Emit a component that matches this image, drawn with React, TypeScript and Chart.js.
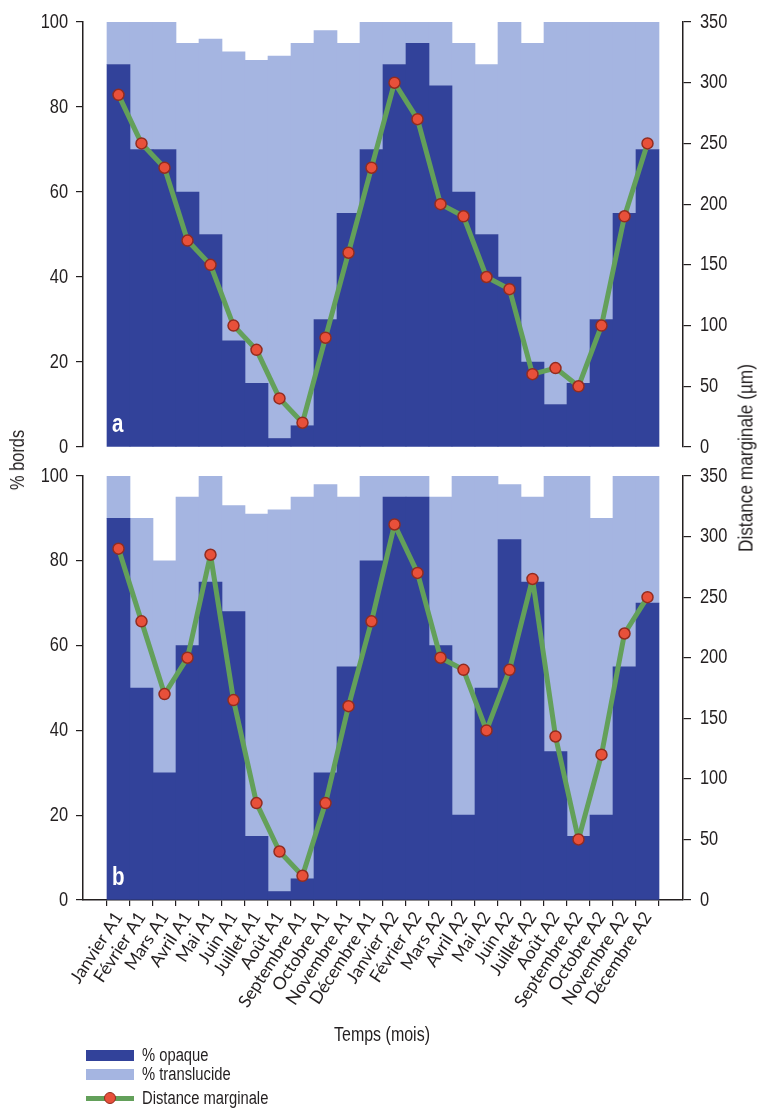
import React, { useEffect, useRef } from 'react';
import { Chart, registerables } from 'chart.js';

Chart.register(...registerables);

const months = [
  'Janvier A1', 'Février A1', 'Mars A1', 'Avril A1', 'Mai A1', 'Juin A1',
  'Juillet A1', 'Août A1', 'Septembre A1', 'Octobre A1', 'Novembre A1', 'Décembre A1',
  'Janvier A2', 'Février A2', 'Mars A2', 'Avril A2', 'Mai A2', 'Juin A2',
  'Juillet A2', 'Août A2', 'Septembre A2', 'Octobre A2', 'Novembre A2', 'Décembre A2',
];

// Panel a
const opaqueA = [90, 70, 70, 60, 50, 25, 15, 2, 5, 30, 55, 70, 90, 95, 85, 60, 50, 40, 20, 10, 15, 30, 55, 70];
const translucentA = [10, 30, 30, 35, 46, 68, 76, 90, 90, 68, 40, 30, 10, 5, 15, 35, 40, 60, 75, 90, 85, 70, 45, 30];
const distanceA = [290, 250, 230, 170, 150, 100, 80, 40, 20, 90, 160, 230, 300, 270, 200, 190, 140, 130, 60, 65, 50, 100, 190, 250];

// Panel b
const opaqueB = [90, 50, 30, 60, 75, 68, 15, 2, 5, 30, 55, 80, 95, 95, 60, 20, 50, 85, 75, 35, 15, 20, 55, 70];
const translucentB = [10, 40, 50, 35, 25, 25, 76, 90, 90, 68, 40, 20, 5, 5, 35, 80, 50, 13, 20, 65, 85, 70, 45, 30];
const distanceB = [290, 230, 170, 200, 285, 165, 80, 40, 20, 80, 160, 230, 310, 270, 200, 190, 140, 190, 265, 135, 50, 120, 220, 250];

const leftAxis = { min: 0, max: 100, step: 20 };
const rightAxis = { min: 0, max: 350, step: 50 };

const DARK = '#32429a';
const LIGHT = '#a5b5e1';
const GREEN = '#63a05a';
const RED = '#e8503a';
const RED_DARK = '#922c20';
const INK = '#231f20';
const SANS = "'Liberation Sans', Arial, sans-serif";
const XFONT = "Lato, 'Liberation Sans', sans-serif";
const SQUEEZE = 0.82;

function drawNarrow(ctx: CanvasRenderingContext2D, text: string, x: number, y: number, align: CanvasTextAlign, baseline: CanvasTextBaseline, font: string, color: string) {
  ctx.save();
  ctx.translate(x, y);
  ctx.scale(SQUEEZE, 1);
  ctx.font = font;
  ctx.fillStyle = color;
  ctx.textAlign = align;
  ctx.textBaseline = baseline;
  ctx.fillText(text, 0, 0);
  ctx.restore();
}

function narrowPlugin(letter: string, dx: number, dy: number) {
  return {
    id: 'narrow' + letter,
    afterDatasetsDraw(chart: any) {
      const { ctx, chartArea } = chart;
      drawNarrow(ctx, letter, chartArea.left + dx, chartArea.bottom - dy, 'left', 'alphabetic', `bold 25px ${SANS}`, '#ffffff');
    },
    afterDraw(chart: any) {
      const ctx = chart.ctx;
      ['y', 'y2'].forEach((id) => {
        const s = chart.scales[id];
        const isLeft = s.position === 'left';
        s.ticks.forEach((t: any) => {
          const y = s.getPixelForValue(t.value);
          const x = isLeft ? s.right - 15 : s.left + 17;
          drawNarrow(ctx, String(t.value), x, y, isLeft ? 'right' : 'left', 'middle', `20px ${SANS}`, INK);
        });
      });
    },
  };
}

function makeConfig(opaque: number[], translucent: number[], distance: number[], showX: boolean, letter: string, padTop: number, padBottom: number) {
  return {
    type: 'bar',
    data: {
      datasets: [
        {
          type: 'line',
          label: 'Distance marginale',
          data: distance.map((v, i) => ({ x: i, y: v })),
          yAxisID: 'y2',
          borderColor: GREEN,
          borderWidth: 5,
          borderJoinStyle: 'round',
          borderCapStyle: 'round',
          pointRadius: 5.5,
          pointBackgroundColor: RED,
          pointBorderColor: RED_DARK,
          pointBorderWidth: 1.5,
          tension: 0,
          order: 0,
        },
        {
          label: '% opaque',
          data: opaque.map((v, i) => ({ x: i, y: v })),
          backgroundColor: DARK,
          borderWidth: 0,
          barPercentage: 1,
          categoryPercentage: 1,
          yAxisID: 'y',
          order: 1,
        },
        {
          label: '% translucide',
          data: translucent.map((v, i) => ({ x: i, y: v })),
          backgroundColor: LIGHT,
          borderWidth: 0,
          barPercentage: 1,
          categoryPercentage: 1,
          yAxisID: 'y',
          order: 1,
        },
      ],
    },
    options: {
      animation: false,
      responsive: false,
      devicePixelRatio: 1,
      layout: { padding: { top: padTop, bottom: padBottom, left: 0, right: 0 } },
      plugins: { legend: { display: false }, tooltip: { enabled: false } },
      scales: {
        x: {
          type: 'linear',
          min: -1,
          max: 24,
          stacked: true,
          display: showX,
          afterBuildTicks: (scale: any) => {
            scale.ticks = months.map((_, i) => ({ value: i }));
          },
          afterFit: (scale: any) => {
            scale.height = showX ? 140 : 0;
          },
          ticks: {
            autoSkip: false,
            minRotation: 57,
            maxRotation: 57,
            padding: 2,
            color: INK,
            font: { family: XFONT, size: 17.5 },
            callback: (value: number) => months[value] ?? '',
          },
          grid: { drawOnChartArea: false, drawTicks: true, tickLength: 6, color: INK, lineWidth: 1.2 },
          border: { display: true, color: INK, width: 1.5 },
        },
        y: {
          position: 'left',
          min: leftAxis.min,
          max: leftAxis.max,
          stacked: true,
          afterFit: (scale: any) => {
            scale.width = 83;
          },
          ticks: { stepSize: leftAxis.step, display: false },
          grid: { drawOnChartArea: false, tickLength: 7, color: INK, lineWidth: 1.2 },
          border: { display: true, color: INK, width: 1.5 },
        },
        y2: {
          position: 'right',
          min: rightAxis.min,
          max: rightAxis.max,
          afterFit: (scale: any) => {
            scale.width = 74;
          },
          ticks: { stepSize: rightAxis.step, display: false },
          grid: { drawOnChartArea: false, tickLength: 8, color: INK, lineWidth: 1.2 },
          border: { display: true, color: INK, width: 1.5 },
        },
      },
    },
    plugins: [narrowPlugin(letter, 29, 15)],
  };
}

function Panel(props: { opaque: number[]; translucent: number[]; distance: number[]; showX: boolean; letter: string; top: number; height: number; padTop: number; padBottom: number }) {
  const ref = useRef<HTMLCanvasElement | null>(null);
  useEffect(() => {
    if (!ref.current) return;
    const chart = new Chart(ref.current, makeConfig(props.opaque, props.translucent, props.distance, props.showX, props.letter, props.padTop, props.padBottom) as any);
    return () => chart.destroy();
  }, []);
  return (
    <canvas
      ref={ref}
      width={757}
      height={props.height}
      style={{ position: 'absolute', left: 0, top: props.top, width: 757, height: props.height }}
    />
  );
}

const textBase: React.CSSProperties = {
  position: 'absolute',
  fontFamily: SANS,
  color: INK,
  whiteSpace: 'nowrap',
  lineHeight: 1,
};

const legendText: React.CSSProperties = {
  ...textBase,
  fontSize: 18,
  left: 142,
  transform: `translateY(-50%) scaleX(${SQUEEZE})`,
  transformOrigin: '0 50%',
};

export default function App() {
  return (
    <div style={{ position: 'absolute', left: 0, top: 0, width: 757, height: 1109, background: '#ffffff', overflow: 'hidden' }}>
      <Panel opaque={opaqueA} translucent={translucentA} distance={distanceA} showX={false} letter="a" top={0} height={460} padTop={22} padBottom={13} />
      <Panel opaque={opaqueB} translucent={translucentB} distance={distanceB} showX={true} letter="b" top={460} height={580} padTop={16} padBottom={0} />

      <div style={{ ...textBase, fontSize: 20, left: 17, top: 460, transform: `translate(-50%, -50%) rotate(-90deg) scaleX(${SQUEEZE})` }}>% bords</div>
      <div style={{ ...textBase, fontSize: 21, left: 745, top: 458, transform: `translate(-50%, -50%) rotate(-90deg) scaleX(${SQUEEZE})` }}>Distance marginale (µm)</div>
      <div style={{ ...textBase, fontSize: 19.5, left: 382, top: 1035, transform: `translate(-50%, -50%) scaleX(${SQUEEZE})` }}>Temps (mois)</div>

      <div style={{ position: 'absolute', left: 86, top: 1050, width: 48, height: 11, background: DARK }} />
      <div style={{ ...legendText, top: 1055 }}>% opaque</div>
      <div style={{ position: 'absolute', left: 86, top: 1069, width: 48, height: 11, background: LIGHT }} />
      <div style={{ ...legendText, top: 1074 }}>% translucide</div>
      <div style={{ position: 'absolute', left: 86, top: 1096, width: 48, height: 5, background: GREEN }} />
      <div style={{ position: 'absolute', left: 104, top: 1092, width: 12, height: 12, borderRadius: '50%', background: RED, border: `1.5px solid ${RED_DARK}`, boxSizing: 'border-box' }} />
      <div style={{ ...legendText, top: 1098 }}>Distance marginale</div>
    </div>
  );
}
